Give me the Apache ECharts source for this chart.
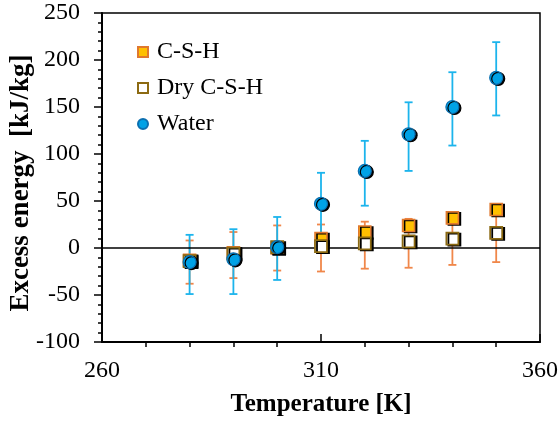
<!DOCTYPE html>
<html>
<head>
<meta charset="utf-8">
<script src="https://cdn.jsdelivr.net/npm/echarts@6/dist/echarts.min.js"></script>
<style>
  html, body { margin: 0; padding: 0; background: #fff; }
  #chart { width: 560px; height: 421px; }
</style>
</head>
<body>
<div id="chart"></div>
<script>
// Excess energy of C-S-H, dry C-S-H and water versus temperature
const temps = [280, 290, 300, 310, 320, 330, 340, 350];
const cshEnergy = [-13, -5, 0, 10, 17, 24, 32, 41];
const dryEnergy = [-14, -6, 1, 2, 5, 7, 10, 16];
const waterEnergy = [-15, -12, 1, 47, 82, 121, 150, 181];

// error-bar ends (low / high), kJ/kg
const cshErrLow = [-38, -32, -24, -25, -22, -21, -18, -15];
const cshErrHigh = [8, 17, 24, 25, 28, 31, 37, 44];
const waterErrLow = [-49, -49, -34, 14, 45, 82, 109, 141];
const waterErrHigh = [14, 20, 33, 80, 114, 155, 187, 219];

// axis ranges
const xMin = 260, xMax = 360, xStep = 50;
const xMinorTicks = [270, 280, 290, 300, 320, 330, 340, 350];
const yMin = -100, yMax = 250, yStep = 50;

const FONT = 'Liberation Serif';

function pairs(xs, ys) { return xs.map((x, i) => [x, ys[i]]); }
function errData(xs, lo, hi) { return xs.map((x, i) => [x, lo[i], hi[i]]); }

function errorBarSeries(data, color) {
  return {
    type: 'custom',
    silent: true,
    z: 1,
    data: data,
    encode: { x: 0, y: [1, 2] },
    renderItem: function (params, api) {
      const x = api.value(0);
      const lo = api.coord([x, api.value(1)]);
      const hi = api.coord([x, api.value(2)]);
      const half = 4;
      const style = { stroke: color, lineWidth: 1.8 };
      return {
        type: 'group',
        children: [
          { type: 'line', shape: { x1: lo[0], y1: lo[1], x2: hi[0], y2: hi[1] }, style: style },
          { type: 'line', shape: { x1: lo[0] - half, y1: lo[1], x2: lo[0] + half, y2: lo[1] }, style: style },
          { type: 'line', shape: { x1: hi[0] - half, y1: hi[1], x2: hi[0] + half, y2: hi[1] }, style: style }
        ]
      };
    }
  };
}

// thin dark edge on the lower right of each marker
const markerShadow = { opacity: 1, shadowColor: '#000', shadowBlur: 0, shadowOffsetX: 2, shadowOffsetY: 1 };

const chart = echarts.init(document.getElementById('chart'), null, { renderer: 'canvas' });

chart.setOption({
  animation: false,
  backgroundColor: '#fff',
  grid: {
    left: 102, right: 20, top: 13, bottom: 79,
    containLabel: false,
    outerBoundsMode: 'none',
    show: true, borderColor: '#000', borderWidth: 1.5, backgroundColor: 'transparent'
  },
  legend: {
    orient: 'vertical',
    left: 137,
    top: 40,
    padding: 0,
    itemGap: 12,
    itemWidth: 10,
    itemHeight: 10,
    textStyle: { fontFamily: FONT, fontSize: 24, color: '#000', padding: [0, 0, 0, 4] },
    itemStyle: { shadowColor: 'transparent', shadowOffsetX: 0, shadowOffsetY: 0 },
    data: [
      { name: 'C-S-H', icon: 'rect' },
      { name: 'Dry C-S-H', icon: 'rect' },
      { name: 'Water', icon: 'circle' }
    ]
  },
  xAxis: [
    {
      type: 'value',
      min: xMin, max: xMax, interval: xStep,
      position: 'bottom',
      name: 'Temperature [K]',
      nameLocation: 'middle',
      nameGap: 50,
      nameMoveOverlap: false,
      nameTextStyle: { fontFamily: FONT, fontSize: 25, fontWeight: 'bold', color: '#000' },
      axisLine: { show: true, onZero: false, lineStyle: { color: '#000', width: 2 } },
      axisTick: { show: true, inside: true, length: 8, lineStyle: { color: '#000', width: 1.5 } },
      axisLabel: { fontFamily: FONT, fontSize: 24, color: '#000', margin: 17 },
      splitLine: { show: false }
    },
    {
      type: 'value',
      min: xMin, max: xMax,
      position: 'bottom',
      axisLine: { show: false, onZero: false },
      axisTick: { show: true, inside: false, length: 5, customValues: xMinorTicks, lineStyle: { color: '#000', width: 1.5 } },
      axisLabel: { show: false },
      splitLine: { show: false }
    }
  ],
  yAxis: {
    type: 'value',
    min: yMin, max: yMax, interval: yStep,
    name: 'Excess energy  [kJ/kg]',
    nameLocation: 'middle',
    nameRotate: 90,
    nameGap: 67,
    nameMoveOverlap: false,
    nameTextStyle: { fontFamily: FONT, fontSize: 27, fontWeight: 'bold', color: '#000', padding: [0, 11, 0, 0] },
    axisLine: { show: true, onZero: false, lineStyle: { color: '#000', width: 2 } },
    axisTick: { show: true, inside: false, length: 8, lineStyle: { color: '#000', width: 1.5 } },
    minorTick: { show: true, splitNumber: 5, length: 4, lineStyle: { color: '#000', width: 1.5 } },
    axisLabel: { fontFamily: FONT, fontSize: 24, color: '#000', margin: 22 },
    splitLine: { show: false }
  },
  series: [
    errorBarSeries(errData(temps, cshErrLow, cshErrHigh), '#F0874A'),
    errorBarSeries(errData(temps, waterErrLow, waterErrHigh), '#1CB4EC'),
    {
      name: 'C-S-H',
      type: 'scatter',
      z: 3,
      symbol: 'rect',
      symbolSize: 12,
      data: pairs(temps, cshEnergy),
      itemStyle: Object.assign({ color: '#FFC000', borderColor: '#E0782E', borderWidth: 1.6 }, markerShadow),
      markLine: {
        silent: true,
        symbol: 'none',
        z: 2,
        label: { show: false },
        lineStyle: { color: '#000', width: 1.5, type: 'solid' },
        data: [{ yAxis: 0 }]
      }
    },
    {
      name: 'Dry C-S-H',
      type: 'scatter',
      z: 4,
      symbol: 'rect',
      symbolSize: 12,
      data: pairs(temps, dryEnergy),
      itemStyle: Object.assign({ color: '#FFFFFF', borderColor: '#8C6A12', borderWidth: 1.8 }, markerShadow)
    },
    {
      name: 'Water',
      type: 'scatter',
      z: 5,
      symbol: 'circle',
      symbolSize: 13,
      data: pairs(temps, waterEnergy),
      itemStyle: Object.assign({ color: '#00A2E6', borderColor: '#0B6FB0', borderWidth: 1.2 }, markerShadow)
    }
  ]
});
</script>
</body>
</html>
